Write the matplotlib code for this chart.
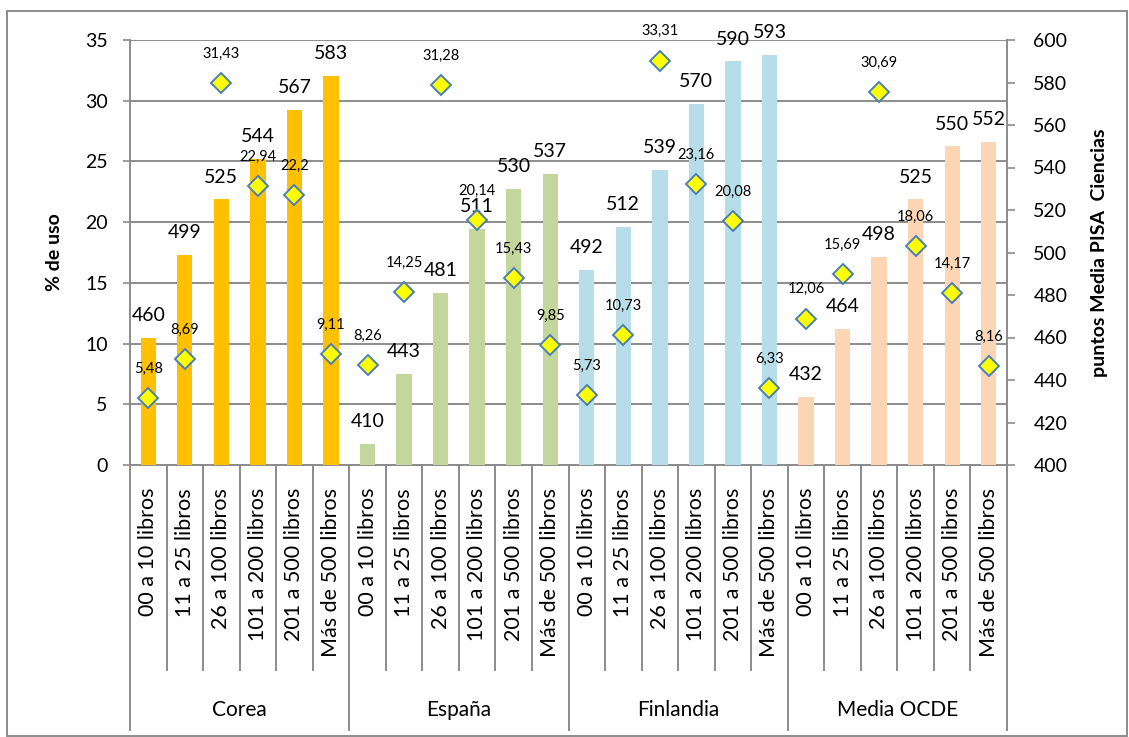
import matplotlib
matplotlib.use("Agg")
import matplotlib.pyplot as plt
from matplotlib.lines import Line2D
from matplotlib.patches import Rectangle
import numpy as np

plt.rcParams['font.family'] = ['Lato', 'DejaVu Sans']

countries = ["Corea", "España", "Finlandia", "Media OCDE"]
book_ranges = ["00 a 10 libros", "11 a 25 libros", "26 a 100 libros",
               "101 a 200 libros", "201 a 500 libros", "Más de 500 libros"]

# PISA science scores (right axis, bars)
pisa_corea = [460, 499, 525, 544, 567, 583]
pisa_espana = [410, 443, 481, 511, 530, 537]
pisa_finlandia = [492, 512, 539, 570, 590, 593]
pisa_ocde = [432, 464, 498, 525, 550, 552]

# Share of students (left axis, diamonds)
uso_corea = [5.48, 8.69, 31.43, 22.94, 22.2, 9.11]
uso_espana = [8.26, 14.25, 31.28, 20.14, 15.43, 9.85]
uso_finlandia = [5.73, 10.73, 33.31, 23.16, 20.08, 6.33]
uso_ocde = [12.06, 15.69, 30.69, 18.06, 14.17, 8.16]

bar_colors = ["#FFC000", "#C3D69B", "#B7DEE8", "#FCD5B5"]

pisa = [pisa_corea, pisa_espana, pisa_finlandia, pisa_ocde]
uso = [uso_corea, uso_espana, uso_finlandia, uso_ocde]

W, H = 1129, 737
fig = plt.figure(figsize=(W / 100, H / 100), dpi=100)
L, R, T, B = 130, 1007, 40, 465
ax = fig.add_axes([L / W, 1 - B / H, (R - L) / W, (B - T) / H])
ax_bar = ax.twinx()
ax_dia = ax.twinx()

grid_c = "#8C8C8C"
n = len(book_ranges)
xs_all = np.arange(len(countries) * n)

# Left axis: % de uso with gridlines
ax.set_ylim(0, 35)
ax.set_yticks(np.arange(0, 36, 5))
ax.grid(axis='y', color=grid_c, linewidth=1.4)
ax.set_axisbelow(True)
ax.tick_params(axis='y', labelsize=14, length=5, width=1.2, color=grid_c, pad=11)
ax.set_xlim(-0.5, len(xs_all) - 0.5)
ax.set_xticks([])
for s in ["top", "right"]:
    ax.spines[s].set_visible(False)
for s in ["left", "bottom"]:
    ax.spines[s].set_color(grid_c)
    ax.spines[s].set_linewidth(1.4)
ax.set_ylabel("% de uso", fontsize=14, fontweight='bold', labelpad=16)

# Right axis: PISA scores as bars
ax_bar.set_ylim(400, 600)
ax_bar.set_yticks(np.arange(400, 601, 20))
ax_bar.tick_params(axis='y', labelsize=14, length=6, width=1.2, color=grid_c, pad=13)
for s in ["top", "left", "bottom"]:
    ax_bar.spines[s].set_visible(False)
ax_bar.spines["right"].set_color(grid_c)
ax_bar.spines["right"].set_linewidth(1.4)
ax_bar.set_ylabel("puntos Media PISA  Ciencias", fontsize=14, fontweight='bold', labelpad=17)

for gi, (vals, col) in enumerate(zip(pisa, bar_colors)):
    xs = xs_all[gi * n:(gi + 1) * n]
    ax_bar.bar(xs, np.array(vals) - 400, bottom=400, width=0.42, color=col, zorder=2)
    for x, v in zip(xs, vals):
        ax_bar.annotate(str(v), (x, v), xytext=(0, 16), textcoords='offset points',
                        ha='center', va='center', fontsize=14)

# Diamonds on their own layer above the bars
ax_dia.set_ylim(0, 35)
ax_dia.set_yticks([])
for s in ax_dia.spines.values():
    s.set_visible(False)
for gi, vals in enumerate(uso):
    xs = xs_all[gi * n:(gi + 1) * n]
    ax_dia.plot(xs, vals, linestyle='none', marker='D', markersize=10.5,
                markerfacecolor="#FFFF00", markeredgecolor="#4A7EBB",
                markeredgewidth=1.4, zorder=3)
    for x, v in zip(xs, vals):
        ax_dia.annotate(f"{v:g}".replace('.', ','), (x, v), xytext=(0, 21),
                        textcoords='offset points', ha='center', va='center', fontsize=10.5)

# Category axis: labels and separators
xt = ax.get_xaxis_transform()
inner_y = -(670 - B) / (B - T)
outer_y = -(730 - B) / (B - T)
for k in range(len(xs_all) + 1):
    xb = k - 0.5
    y_end = outer_y if k % n == 0 else inner_y
    ax.add_line(Line2D([xb, xb], [0, y_end], transform=xt, color=grid_c,
                       linewidth=1.4, clip_on=False))
for gi in range(len(countries)):
    for j, lab in enumerate(book_ranges):
        ax.text(gi * n + j, -(488 - B) / (B - T), lab, transform=xt,
                rotation=90, ha='center', va='top', fontsize=15.5)
    ax.text(gi * n + (n - 1) / 2, -(710 - B) / (B - T), countries[gi],
            transform=xt, ha='center', va='center', fontsize=15)

# Chart-area border
fig.add_artist(Rectangle((7 / W, 1 - 736 / H), (1127 - 7) / W, (736 - 11) / H,
                         transform=fig.transFigure, fill=False,
                         edgecolor="#8C8C8C", linewidth=1.4))

fig.savefig("out.png", dpi=100)
